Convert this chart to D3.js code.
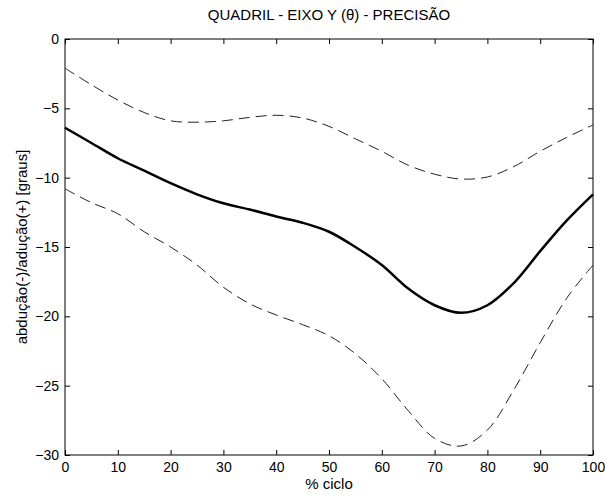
<!DOCTYPE html>
<html>
<head>
<meta charset="utf-8">
<script src="https://cdn.jsdelivr.net/npm/d3@7"></script>
<style>
    body { margin: 0; background: #fff; }
    text { font-family: "Liberation Sans", Arial, sans-serif; fill: #000; }
    .axis path { display: none; }
    .axis line { stroke: #000; }
    .axis text { font-size: 14px; }
</style>
</head>
<body>
<div id="chart"></div>
<script>
// % of cycle
const ciclo = [0, 5, 10, 15, 20, 25, 30, 35, 40, 45, 50, 55, 60, 65, 70, 75, 80, 85, 90, 95, 100];
// mean curve (solid) and +/- bands (dashed), degrees
const media = [-6.4, -7.5, -8.6, -9.5, -10.4, -11.2, -11.85, -12.3, -12.8, -13.25, -13.9, -15.0, -16.3, -18.0, -19.2, -19.75, -19.2, -17.6, -15.3, -13.1, -11.2];
const superior = [-2.1, -3.3, -4.4, -5.3, -5.9, -6.0, -5.9, -5.65, -5.5, -5.7, -6.3, -7.2, -8.1, -9.1, -9.75, -10.1, -9.95, -9.2, -8.1, -7.1, -6.2];
const inferior = [-10.8, -11.8, -12.6, -13.9, -15.0, -16.3, -17.9, -19.1, -19.9, -20.6, -21.4, -22.7, -24.5, -26.8, -28.8, -29.35, -28.2, -25.3, -21.9, -18.7, -16.3];

const xTicks = [0, 10, 20, 30, 40, 50, 60, 70, 80, 90, 100];
const yTicks = [0, -5, -10, -15, -20, -25, -30];

const margin = {top: 39, right: 12, bottom: 40, left: 65};
const containerWidth = 605, containerHeight = 495;
const width = containerWidth - margin.left - margin.right;
const height = containerHeight - margin.top - margin.bottom;

const svg = d3.select('#chart').append('svg')
    .attr('width', containerWidth)
    .attr('height', containerHeight);

const chart = svg.append('g')
    .attr('transform', `translate(${margin.left},${margin.top})`);

const xScale = d3.scaleLinear().domain([0, 100]).range([0, width]);
const yScale = d3.scaleLinear().domain([-30, 0]).range([height, 0]);

// ticks point inward, on all four sides (box style)
chart.append('g')
    .attr('class', 'axis')
    .attr('transform', `translate(0,${height})`)
    .call(d3.axisBottom(xScale).tickValues(xTicks).tickSizeInner(-5).tickSizeOuter(0).tickPadding(7));

chart.append('g')
    .attr('class', 'axis')
    .call(d3.axisTop(xScale).tickValues(xTicks).tickSizeInner(-5).tickSizeOuter(0).tickFormat(''));

chart.append('g')
    .attr('class', 'axis')
    .call(d3.axisLeft(yScale).tickValues(yTicks).tickSizeInner(-5).tickSizeOuter(0).tickPadding(6));

chart.append('g')
    .attr('class', 'axis')
    .attr('transform', `translate(${width},0)`)
    .call(d3.axisRight(yScale).tickValues(yTicks).tickSizeInner(-5).tickSizeOuter(0).tickFormat(''));

chart.append('rect')
    .attr('width', width)
    .attr('height', height)
    .attr('fill', 'none')
    .attr('stroke', '#000')
    .attr('stroke-width', 1);

const line = d3.line()
    .x((d, i) => xScale(ciclo[i]))
    .y(d => yScale(d))
    .curve(d3.curveCatmullRom);

chart.append('path')
    .datum(superior)
    .attr('d', line)
    .attr('fill', 'none')
    .attr('stroke', '#222')
    .attr('stroke-width', 1)
    .attr('stroke-dasharray', '11,6');

chart.append('path')
    .datum(inferior)
    .attr('d', line)
    .attr('fill', 'none')
    .attr('stroke', '#222')
    .attr('stroke-width', 1)
    .attr('stroke-dasharray', '11,6');

chart.append('path')
    .datum(media)
    .attr('d', line)
    .attr('fill', 'none')
    .attr('stroke', '#000')
    .attr('stroke-width', 2.5);

// titles
svg.append('text')
    .attr('x', margin.left + width / 2)
    .attr('y', 20)
    .attr('text-anchor', 'middle')
    .style('font-size', '15px')
    .text('QUADRIL - EIXO Y (θ) - PRECISÃO');

svg.append('text')
    .attr('x', margin.left + width / 2)
    .attr('y', 489)
    .attr('text-anchor', 'middle')
    .style('font-size', '15px')
    .text('% ciclo');

svg.append('text')
    .attr('transform', `translate(27,${margin.top + height / 2}) rotate(-90)`)
    .attr('text-anchor', 'middle')
    .style('font-size', '15px')
    .text('abdução(-)/adução(+) [graus]');
</script>
</body>
</html>
